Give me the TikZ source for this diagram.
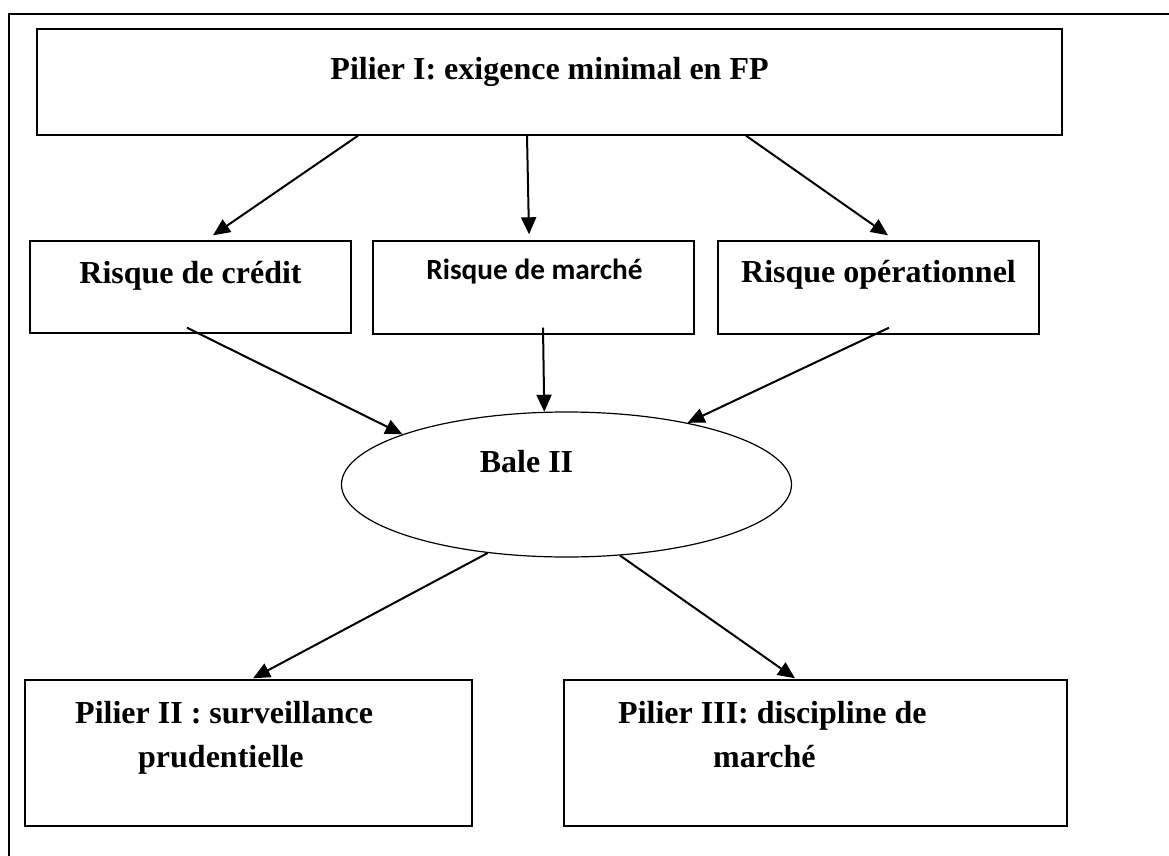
\documentclass[tikz,border=0pt]{standalone}
\usepackage{fontspec}
\setmainfont{Liberation Serif}
\newfontfamily\calib{Carlito}
\usetikzlibrary{shapes.geometric,arrows.meta}
\begin{document}
\begin{tikzpicture}[x=1pt,y=-1pt,
  box/.style={draw, line width=1.4pt, rectangle, inner sep=0pt},
  txt/.style={font=\fontsize{32}{44}\selectfont\bfseries, inner sep=0pt},
  arr/.style={line width=2pt, -{Triangle[length=17pt,width=15pt]}},
]
\useasboundingbox (0,0) rectangle (1169,856);
% outer frame (cut by the page)
\draw[line width=2pt] (9,856) -- (9,14) -- (1169,14);

% boxes
\node[box, minimum width=1025pt, minimum height=106pt] (top) at (549.5,82) {};
\node[box, minimum width=321pt, minimum height=92pt] (cred) at (190.5,287) {};
\node[box, minimum width=321pt, minimum height=93pt] (marc) at (533.5,287.5) {};
\node[box, minimum width=321pt, minimum height=93pt] (oper) at (878.5,287.5) {};
\node[draw, ellipse, line width=1.2pt, inner sep=0pt, minimum width=450pt, minimum height=145pt] (bale) at (566.5,484.5) {};
\node[box, minimum width=447pt, minimum height=146pt] (p2) at (248.5,753) {};
\node[box, minimum width=503pt, minimum height=146pt] (p3) at (815.5,753) {};

% texts
\node[txt, anchor=base] (t0) at (549.5,80) {Pilier I: exigence minimal en FP};
\node[txt, anchor=base] (t1) at (190.5,283) {Risque de crédit};
\node[inner sep=0pt, font=\calib\fontsize{29.3}{35}\selectfont\bfseries, anchor=base] (t2) at (534.5,279) {Risque de marché};
\node[txt, anchor=base] (t3) at (878.5,282) {Risque opérationnel};
\node[txt, anchor=base] (t4) at (526.5,472) {Bale II};
\node[txt, anchor=base west] (t5) at (75,723) {Pilier II : surveillance};
\node[txt, anchor=base west] (t6) at (138,767) {prudentielle};
\node[txt, anchor=base west] (t7) at (618,723) {Pilier III: discipline de};
\node[txt, anchor=base west] (t8) at (713,767) {marché};

% connectors
\draw[arr] ([xshift=-191.5pt]top.south) -- ([xshift=22.5pt,yshift=5pt]cred.north);
\draw[arr] ([xshift=-22.5pt]top.south) -- ([xshift=-4.5pt,yshift=6pt]marc.north);
\draw[arr] ([xshift=196.5pt]top.south) -- ([xshift=9.5pt,yshift=5pt]oper.north);

\draw[arr] ([xshift=-3.5pt,yshift=6pt]cred.south) -- (bale.163.2);
\draw[arr] ([xshift=9.5pt,yshift=7pt]marc.south) -- (bale.107.7);
\draw[arr] ([xshift=10.5pt,yshift=7pt]oper.south) -- (bale.27.8);

\draw[arr] (bale.221.4) -- ([xshift=4.5pt,yshift=1pt]p2.north);
\draw[arr] (bale.-53) -- ([xshift=-20.5pt,yshift=1pt]p3.north);
\end{tikzpicture}
\end{document}
